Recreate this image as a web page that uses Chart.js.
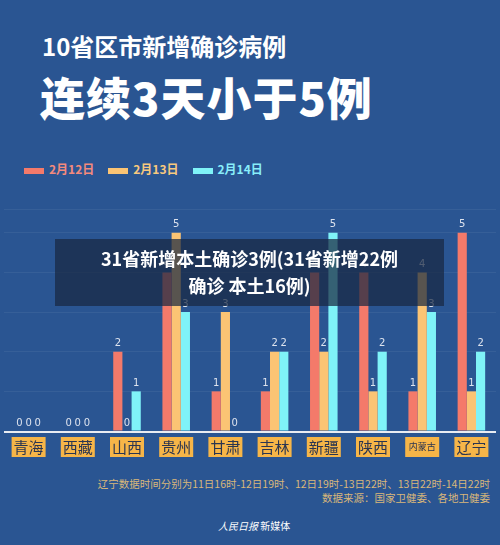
<!DOCTYPE html>
<html><head><meta charset="utf-8">
<script src="https://cdn.jsdelivr.net/npm/chart.js@4/dist/chart.umd.min.js"></script>
<style>
body{margin:0;width:500px;height:545px;background:#2a5592;font-family:"Noto Sans CJK SC",sans-serif;overflow:hidden;position:relative;}
.t1{position:absolute;left:42px;top:28px;color:#fff;font-size:24px;font-weight:bold;}
.t2{position:absolute;left:40px;top:64px;color:#fff;font-size:45px;font-weight:900;letter-spacing:1px;}
.leg{position:absolute;left:24px;top:160px;font-size:12px;font-weight:bold;display:flex;gap:14px;}
.leg span i{display:inline-block;width:20px;height:6px;margin-right:5px;vertical-align:middle;}
#wrap{position:absolute;left:0;top:190px;width:500px;height:272px;}
.ban{position:absolute;left:55px;top:239px;width:389px;height:67px;background:rgba(25,40,65,0.72);color:#fff;font-weight:bold;font-size:18px;text-align:center;line-height:27px;padding-top:6px;box-sizing:border-box;}
.note{position:absolute;right:10px;top:477px;color:#d9b77a;font-size:10.5px;text-align:right;line-height:14px;}
.logo{position:absolute;left:218px;top:518px;color:#fff;font-size:10px;}
</style></head><body>
<div class="t1">10省区市新增确诊病例</div>
<div class="t2">连续3天小于5例</div>
<div class="leg">
<span style="color:#f48a7c"><i style="background:#f47a6a"></i>2月12日</span>
<span style="color:#f8c97e"><i style="background:#fbc474"></i>2月13日</span>
<span style="color:#88eefa"><i style="background:#7ff3f8"></i>2月14日</span>
</div>
<div id="wrap"><canvas id="c"></canvas></div>
<div class="ban">31省新增本土确诊3例(31省新增22例<br>确诊 本土16例)</div>
<div class="note">辽宁数据时间分别为11日16时-12日19时、12日19时-13日22时、13日22时-14日22时<br>数据来源：国家卫健委、各地卫健委</div>
<div class="logo"><i>人民日报</i> 新媒体</div>
<script>
const categories=["青海","西藏","山西","贵州","甘肃","吉林","新疆","陕西","内蒙古","辽宁"];
const feb12=[0,0,2,4,1,1,4,4,1,5];
const feb13=[0,0,0,5,3,2,2,1,4,1];
const feb14=[0,0,1,3,0,2,5,2,3,2];
const labelsPlugin={id:"lbl",afterDatasetsDraw(ch){
 const ctx=ch.ctx;ctx.save();
 ctx.font="10px 'DejaVu Sans'";ctx.fillStyle="#dde3ee";ctx.textAlign="center";ctx.textBaseline="bottom";
 ch.data.datasets.forEach((d,i)=>{ch.getDatasetMeta(i).data.forEach((b,j)=>{ctx.fillText(d.data[j],b.x,b.y-3);});});
 const xs=ch.scales.x,base=ch.chartArea.bottom;
 ctx.fillStyle="#e9ecf2";ctx.fillRect(ch.chartArea.left,base,ch.chartArea.right-ch.chartArea.left,2);
 categories.forEach((c,j)=>{const x=xs.getPixelForValue(j);
  ctx.fillStyle="#f6b548";ctx.fillRect(x-17,base+6,34,20);
  ctx.fillStyle="#2a3550";ctx.textBaseline="middle";
  ctx.font=(c.length>2?"9px":"15px")+" 'Noto Sans CJK SC'";ctx.fillText(c,x,base+16);});
 ctx.restore();}};
new Chart(document.getElementById("c"),{type:"bar",
 data:{labels:categories,datasets:[
  {data:feb12,backgroundColor:"#f47a6a"},
  {data:feb13,backgroundColor:"#fbc474"},
  {data:feb14,backgroundColor:"#7ff3f8"}]},
 options:{responsive:true,maintainAspectRatio:false,animation:false,
  layout:{padding:{top:19,bottom:31,left:4,right:4}},
  datasets:{bar:{categoryPercentage:0.56,barPercentage:1}},
  plugins:{legend:{display:false},tooltip:{enabled:false}},
  scales:{x:{display:false},
   y:{min:0,max:5.6,ticks:{display:false,stepSize:1},border:{display:false},grid:{color:"rgba(255,255,255,0.06)",drawTicks:false}}}},
 plugins:[labelsPlugin]});
</script></body></html>
